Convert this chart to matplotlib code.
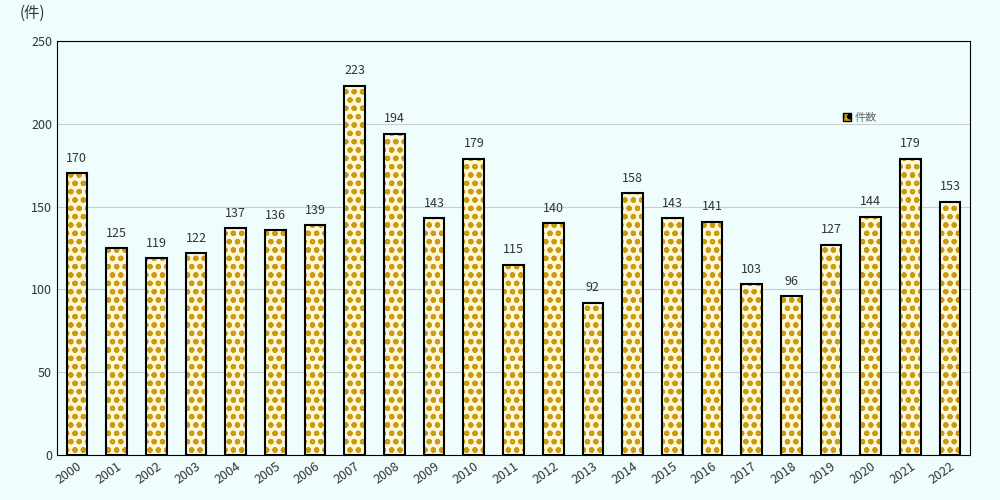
import matplotlib
matplotlib.use("Agg")
import matplotlib.pyplot as plt

plt.rcParams['font.family'] = ['Noto Sans CJK JP', 'DejaVu Sans']
plt.rcParams['hatch.linewidth'] = 1.5
years = [str(y) for y in range(2000, 2023)]
counts = [170,125,119,122,137,136,139,223,194,143,179,115,140,92,158,143,141,103,96,127,144,179,153]

bg = '#f0fdfd'
fig = plt.figure(figsize=(10, 5), dpi=100, facecolor=bg)
ax = fig.add_axes([0.057, 0.09, 0.913, 0.828], facecolor=bg)
x = range(len(years))
ax.bar(x, counts, width=0.52, color='#fff8d8', edgecolor='#c99a12', hatch='oo', linewidth=0, zorder=2)
ax.bar(x, counts, width=0.52, color='none', edgecolor='black', linewidth=1.5, zorder=3)
for i, c in zip(x, counts):
    ax.text(i, c + 5, str(c), ha='center', va='bottom', fontsize=9, color='#333333')
ax.set_ylim(0, 250)
ax.set_xlim(-0.5, len(years) - 0.5)
ax.set_yticks(range(0, 251, 50))
ax.yaxis.grid(True, color='#cccccc', linewidth=0.8, zorder=0)
ax.set_xticks(list(x))
ax.set_xticklabels(years, rotation=35, ha='right', rotation_mode='anchor', fontsize=9, color='#333333')
ax.tick_params(axis='y', labelsize=9, colors='#333333', length=0)
ax.tick_params(axis='x', length=0)
for s in ax.spines.values():
    s.set_color('black'); s.set_linewidth(0.8)
from matplotlib.patches import Patch
ax.legend(handles=[Patch(facecolor='#c99a12', edgecolor='black', hatch='oo')], labels=['件数'],
          loc='upper left', bbox_to_anchor=(0.85, 0.85), frameon=False, fontsize=8,
          handlelength=0.7, handleheight=0.7, handletextpad=0.3, labelcolor='#666666')
fig.text(0.02, 0.965, '(件)', fontsize=11, color='#333333')
fig.savefig('out.png', facecolor=bg)
